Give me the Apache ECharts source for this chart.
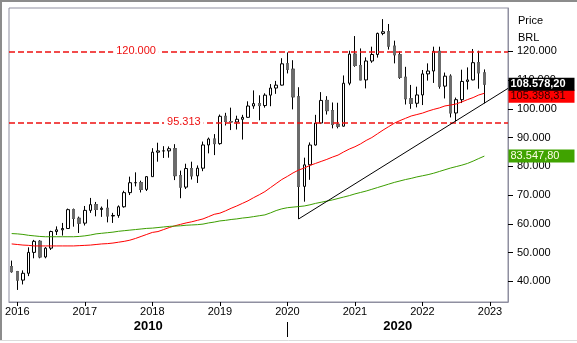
<!DOCTYPE html>
<html>
<head>
<meta charset="utf-8">
<style>
  html, body { margin: 0; padding: 0; background: #fff; }
  #chart { width: 577px; height: 343px; }
</style>
<script src="https://cdn.jsdelivr.net/npm/echarts@6/dist/echarts.min.js"></script>
</head>
<body>
<div id="chart"></div>
<script>
// Monthly candles, Dec 2015 .. Dec 2022, values in thousands of index points.
// x positions are months counted from Jan 2016 (Dec 2015 = -1).
const FIRST_MONTH = -1;

const OPEN = [
  45.10,
  43.35, 40.41, 42.79, 50.06, 53.91, 48.47, 51.53, 57.31, 57.90, 58.37, 64.92, 61.91,
  60.23, 64.67, 66.66, 64.98, 65.40, 62.71, 62.90, 65.92, 70.84, 74.29, 74.31, 71.97,
  76.40, 84.91, 85.35, 85.37, 86.12, 76.75, 72.76, 79.22, 76.68, 79.34, 87.42, 89.50,
  87.89, 97.39, 95.58, 95.41, 96.35, 97.03, 100.97, 101.81, 101.13, 104.75, 107.22, 108.23,
  115.65, 113.76, 104.17, 73.02, 80.51, 87.40, 95.06, 102.91, 99.37, 94.60, 93.95, 108.89,
  119.02, 115.07, 110.04, 116.63, 118.89, 126.22, 126.80, 121.80, 118.78, 110.98, 103.50, 101.92,
  104.82, 112.14, 113.14, 120.00, 107.88, 111.35, 98.54, 103.17, 109.52, 110.04, 116.04, 112.49
];
const HIGH = [
  47.2,
  43.6, 43.8, 51.8, 54.4, 54.3, 51.9, 57.6, 59.1, 60.3, 65.3, 65.3, 62.5,
  66.2, 69.0, 67.6, 66.0, 68.5, 63.8, 66.4, 71.5, 76.4, 77.9, 75.0, 76.5,
  86.3, 88.2, 87.0, 86.9, 87.7, 78.5, 80.9, 81.6, 80.3, 88.6, 90.0, 91.2,
  98.0, 98.6, 100.4, 97.6, 97.9, 102.6, 106.4, 104.7, 105.4, 108.6, 109.7, 117.6,
  119.6, 116.9, 107.5, 83.0, 88.3, 97.9, 105.8, 104.4, 102.2, 102.1, 111.6, 120.2,
  125.3, 121.0, 117.9, 121.6, 126.5, 131.2, 129.5, 123.7, 120.0, 114.6, 108.3, 107.7,
  113.5, 115.8, 121.6, 121.6, 112.6, 112.0, 103.9, 113.6, 114.4, 120.8, 120.2, 113.7
];
const LOW = [
  43.0,
  37.0, 38.9, 41.8, 48.0, 48.0, 48.0, 50.9, 56.1, 55.9, 58.3, 59.0, 56.8,
  59.4, 63.8, 62.6, 62.4, 60.5, 60.3, 62.1, 65.6, 70.0, 73.0, 70.9, 71.4,
  76.4, 81.6, 82.9, 83.0, 75.2, 68.9, 72.1, 75.4, 74.2, 78.3, 84.5, 83.9,
  87.5, 94.2, 92.6, 92.8, 89.3, 96.9, 100.0, 96.0, 100.4, 100.9, 105.2, 108.1,
  112.3, 99.8, 61.69, 67.7, 75.3, 87.2, 94.7, 98.0, 93.2, 93.2, 93.8, 108.2,
  114.6, 110.0, 107.1, 116.0, 117.8, 125.6, 120.6, 115.8, 110.4, 101.5, 100.0, 100.5,
  101.3, 109.8, 109.0, 107.0, 103.6, 97.0, 95.6, 102.0, 106.7, 109.9, 107.0, 101.9
];
const CLOSE = [
  43.35,
  40.41, 42.79, 50.06, 53.91, 48.47, 51.53, 57.31, 57.90, 58.37, 64.92, 61.91, 60.23,
  64.67, 66.66, 64.98, 65.40, 62.71, 62.90, 65.92, 70.84, 74.29, 74.31, 71.97, 76.40,
  84.91, 85.35, 85.37, 86.12, 76.75, 72.76, 79.22, 76.68, 79.34, 87.42, 89.50, 87.89,
  97.39, 95.58, 95.41, 96.35, 97.03, 100.97, 101.81, 101.13, 104.75, 107.22, 108.23, 115.65,
  113.76, 104.17, 73.02, 80.51, 87.40, 95.06, 102.91, 99.37, 94.60, 93.95, 108.89, 119.02,
  115.07, 110.04, 116.63, 118.89, 126.22, 126.80, 121.80, 118.78, 110.98, 103.50, 101.92, 104.82,
  112.14, 113.14, 120.00, 107.88, 111.35, 98.54, 103.17, 109.52, 110.04, 116.04, 112.49, 108.5782
];

// Moving averages (red: 50 months, green: 100 months), one value per candle.
const MA_RED = [
  53.0,
  52.8, 52.6, 52.5, 52.3, 52.3, 52.3, 52.3, 52.3, 52.3, 52.3, 52.3, 52.4,
  52.5, 52.6, 52.8, 53.0, 53.1, 53.3, 53.6, 53.9, 54.3, 54.9, 55.6, 56.3,
  57.0, 57.3, 58.0, 58.7, 59.3, 59.8, 60.3, 60.7, 61.2, 61.7, 62.5, 63.3,
  63.7, 64.5, 65.4, 66.2, 67.1, 68.0, 69.1, 70.1, 71.2, 72.6, 74.0, 75.4,
  76.5, 77.7, 78.7, 79.4, 80.3, 81.0, 81.7, 82.4, 83.2, 83.9, 85.0, 86.0,
  86.8, 87.8, 89.0, 90.0, 91.3, 92.6, 93.8, 95.0, 95.9, 96.7, 97.5, 98.0,
  98.5, 99.2, 99.8, 100.3, 101.0, 101.3, 101.7, 102.4, 103.2, 103.9, 104.8, 105.39831
];
const MA_GREEN = [
  56.6,
  56.5, 56.3, 56.0, 55.8, 55.6, 55.5, 55.5, 55.5, 55.5, 55.5, 55.5, 55.6,
  55.8, 56.1, 56.5, 56.7, 56.9, 57.1, 57.4, 57.6, 57.8, 58.0, 58.2, 58.4,
  58.5, 58.7, 58.9, 59.1, 59.2, 59.3, 59.5, 59.6, 59.7, 59.9, 60.3, 60.6,
  61.0, 61.2, 61.5, 61.7, 62.0, 62.2, 62.5, 62.8, 63.1, 63.8, 64.6, 65.2,
  65.6, 65.8, 66.0, 66.2, 66.6, 67.1, 67.5, 67.9, 68.3, 68.8, 69.3, 69.8,
  70.4, 70.9, 71.4, 72.0, 72.6, 73.2, 73.8, 74.4, 74.9, 75.4, 75.8, 76.3,
  76.7, 77.1, 77.6, 78.2, 78.8, 79.4, 79.9, 80.4, 81.0, 81.8, 82.7, 83.5478
];

// Support trend line from the Mar 2020 low to the right edge: [month, value].
const TREND = [[50, 61.69], [87.2, 107.1]];
// Horizontal levels.
const LEVELS = [120, 95.313];
// Axis labels.
const YEARS = [2016, 2017, 2018, 2019, 2020, 2021, 2022, 2023];
const DECADES = ['2010', '2020'];
const PRICE_TICKS = [40, 50, 60, 70, 80, 90, 100, 110, 120];

const X_MIN = -1.475, X_MAX = 87.2;
const Y_MIN = 32.8, Y_MAX = 135.06;
const FONT = '"Liberation Sans", Arial, sans-serif';

function fmtBR(v, dec) {
  const parts = v.toFixed(dec).split('.');
  const int = parts[0].replace(/\B(?=(\d{3})+(?!\d))/g, '.');
  return parts[1] ? int + ',' + parts[1] : int;
}

const months = OPEN.map((_, i) => FIRST_MONTH + i);
const candles = months.map((m, i) => [m, OPEN[i], CLOSE[i], LOW[i], HIGH[i]]);
// falling months get a flat grey body drawn over the outlined candle
const downBodies = months
  .map((m, i) => [m, OPEN[i], CLOSE[i], CLOSE[i], OPEN[i]])
  .filter((d, i) => CLOSE[i] < OPEN[i]);
const redLine = months.map((m, i) => [m, MA_RED[i]]);
const greenLine = months.map((m, i) => [m, MA_GREEN[i]]);

const yearTicks = YEARS.map((y) => (y - YEARS[0]) * 12);
const decadeSplit = (2020 - YEARS[0]) * 12;
const decadeCenters = [(X_MIN + decadeSplit) / 2, (decadeSplit + X_MAX) / 2];

const last = CLOSE.length - 1;

function valueBox(value, text, bg, fg, bold, dy) {
  return {
    coord: [X_MAX, value],
    symbol: 'rect',
    symbolSize: 1,
    itemStyle: { color: 'rgba(0,0,0,0)' },
    label: {
      show: true,
      position: 'right',
      distance: 0,
      offset: [0, dy],
      formatter: text,
      backgroundColor: bg,
      color: fg,
      fontWeight: bold ? 'bold' : 'normal',
      fontSize: 11,
      fontFamily: FONT,
      width: 62,
      height: 13,
      lineHeight: 13,
      padding: [0, 2, 0, 2],
      align: 'left'
    }
  };
}

function levelLabel(x, value) {
  return {
    coord: [x, value],
    symbol: 'rect',
    symbolSize: 1,
    itemStyle: { color: 'rgba(0,0,0,0)' },
    label: {
      show: true,
      position: 'inside',
      formatter: fmtBR(value * 1000, 0),
      color: '#ee1111',
      backgroundColor: '#fff',
      padding: [1, 3],
      fontSize: 11,
      fontFamily: FONT
    }
  };
}

const chart = echarts.init(document.getElementById('chart'), null, { renderer: 'canvas' });

chart.setOption({
  animation: false,
  backgroundColor: '#fff',
  title: {
    text: 'Price\nBRL',
    left: 513,
    top: 7,
    textStyle: { fontSize: 11, fontWeight: 'normal', color: '#000', lineHeight: 17, fontFamily: FONT }
  },
  graphic: [
    { type: 'line', shape: { x1: 0, y1: 1, x2: 577, y2: 1 }, style: { stroke: '#8c8c8c', lineWidth: 2 } },
    { type: 'line', shape: { x1: 1, y1: 0, x2: 1, y2: 340 }, style: { stroke: '#8c8c8c', lineWidth: 2 } },
    { type: 'line', shape: { x1: 0, y1: 340.5, x2: 577, y2: 340.5 }, style: { stroke: '#dcdcdc', lineWidth: 1 } }
  ],
  grid: {
    left: 9, right: 69, top: 8, bottom: 41,
    show: true, borderColor: '#8f8fa0', borderWidth: 1, backgroundColor: '#fff'
  },
  xAxis: [
    {
      type: 'value', min: X_MIN, max: X_MAX,
      splitLine: { show: false },
      axisLine: { show: true, onZero: false, lineStyle: { color: '#8f8fa0' } },
      axisTick: { show: true, customValues: yearTicks, length: 4, lineStyle: { color: '#000' } },
      axisLabel: {
        customValues: yearTicks, margin: 4, color: '#000', fontSize: 11, fontFamily: FONT,
        formatter: (v) => String(YEARS[Math.round(v / 12)])
      }
    },
    {
      type: 'value', min: X_MIN, max: X_MAX, position: 'bottom', offset: 20,
      splitLine: { show: false },
      axisLine: { show: false, onZero: false },
      axisTick: { show: true, customValues: [decadeSplit], length: 15, lineStyle: { color: '#000' } },
      axisLabel: {
        customValues: decadeCenters, margin: -2, color: '#000', fontSize: 13, fontWeight: 'bold',
        fontFamily: FONT,
        formatter: (v) => (v < decadeSplit ? DECADES[0] : DECADES[1])
      }
    }
  ],
  yAxis: {
    type: 'value', position: 'right', min: Y_MIN, max: Y_MAX,
    splitLine: { show: false },
    axisLine: { show: true, onZero: false, lineStyle: { color: '#8f8fa0' } },
    axisTick: { show: true, customValues: PRICE_TICKS, length: 5, lineStyle: { color: '#000' } },
    axisLabel: {
      customValues: PRICE_TICKS, margin: 9, color: '#000', fontSize: 11, fontFamily: FONT,
      formatter: (v) => fmtBR(v * 1000, 0)
    }
  },
  series: [
    {
      name: 'candles',
      type: 'candlestick',
      data: candles,
      encode: { x: 0, y: [1, 2, 3, 4] },
      barWidth: 3,
      z: 3,
      itemStyle: {
        color: '#ffffff', color0: '#6b6b6b',
        borderColor: '#000000', borderColor0: '#000000', borderWidth: 1
      },
      markPoint: {
        z: 20,
        data: [valueBox(CLOSE[last], fmtBR(CLOSE[last] * 1000, 2), '#000000', '#ffffff', true, 0)]
      }
    },
    {
      name: 'down bodies',
      type: 'candlestick',
      data: downBodies,
      encode: { x: 0, y: [1, 2, 3, 4] },
      barWidth: 3,
      z: 4,
      itemStyle: {
        color: '#6b6b6b', color0: '#6b6b6b',
        borderColor: '#6b6b6b', borderColor0: '#6b6b6b', borderWidth: 1
      }
    },
    {
      name: 'MA red',
      type: 'line',
      data: redLine,
      symbol: 'none',
      z: 6,
      lineStyle: { color: '#ff0000', width: 1 },
      markPoint: {
        z: 19,
        data: [valueBox(MA_RED[last], fmtBR(MA_RED[last] * 1000, 2), '#ff0000', '#2a0000', false, 3)]
      }
    },
    {
      name: 'MA green',
      type: 'line',
      data: greenLine,
      symbol: 'none',
      z: 6,
      lineStyle: { color: '#3c9e00', width: 1 },
      markPoint: {
        z: 19,
        data: [valueBox(MA_GREEN[last], fmtBR(MA_GREEN[last] * 1000, 2), '#40a300', '#ffffe8', false, 0)]
      }
    },
    {
      name: 'trend',
      type: 'line',
      data: TREND,
      symbol: 'none',
      z: 7,
      lineStyle: { color: '#000', width: 1 }
    },
    {
      name: 'levels',
      type: 'line',
      data: [],
      z: 8,
      markLine: {
        silent: true,
        symbol: 'none',
        label: { show: false },
        lineStyle: { color: '#ee1111', type: [6, 3], width: 1.5 },
        data: LEVELS.map((v) => ({ yAxis: v }))
      },
      markPoint: {
        z: 9,
        data: [levelLabel(21.1, LEVELS[0]), levelLabel(29.6, LEVELS[1])]
      }
    }
  ]
});
</script>
</body>
</html>
